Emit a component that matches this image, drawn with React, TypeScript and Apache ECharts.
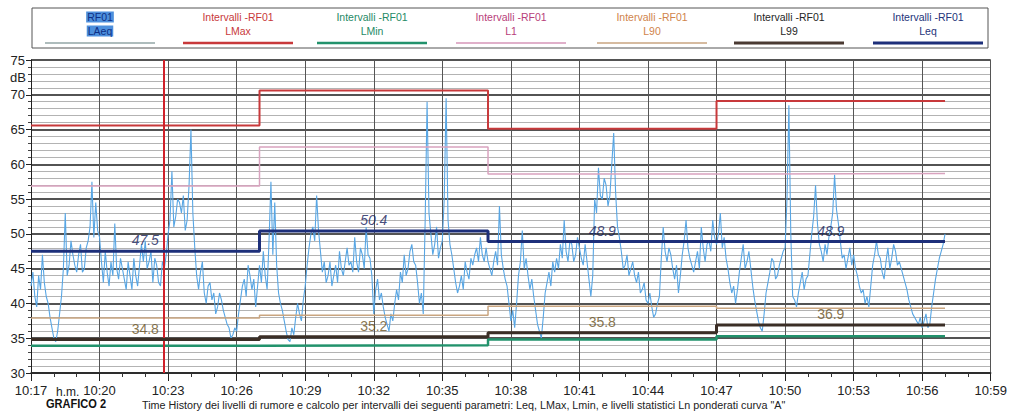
import React, { useEffect, useRef } from "react";
import * as echarts from "echarts";

// ---- data ----
const START_H = 10;
const START_M = 17;
const X_MAX_MIN = 42; // 10:17 -> 10:59
const laeqStepSeconds = 5;

// LAeq short-time trace, one value every 5 s from 10:17:00 to 10:57:00 (12 values per minute)
const laeq: number[] = [
  42.5, 44.5, 41.0, 39.5, 44.0, 42.0, 47.0, 43.0, 41.0, 40.0, 38.0, 36.5,
  35.0, 34.5, 36.0, 38.5, 41.0, 45.0, 53.0, 44.0, 45.5, 49.0, 47.0, 45.5,
  44.5, 47.0, 48.5, 44.5, 45.0, 48.0, 49.0, 51.0, 57.5, 49.5, 54.5, 50.5,
  49.5, 46.0, 43.0, 47.5, 44.5, 42.5, 46.0, 44.0, 51.5, 45.0, 43.5, 46.5,
  45.0, 43.5, 42.0, 46.0, 44.0, 42.0, 46.5, 44.0, 42.5, 45.5, 48.5, 46.0,
  49.0, 45.0, 46.0, 47.5, 43.0, 46.5, 45.5, 43.0, 42.5, 46.0, 45.0, 47.0,
  50.0, 52.0, 59.0, 51.0, 52.5, 55.0, 54.5, 53.0, 55.5, 50.5, 52.0, 57.0,
  65.0, 53.0, 48.0, 44.0, 42.0, 44.5, 46.0, 41.5, 40.0, 42.5, 43.0, 40.5,
  41.5, 38.5, 39.5, 41.5, 40.5, 39.0, 38.0, 37.0, 36.5, 35.0, 35.5, 36.5,
  36.0, 38.5, 40.5, 42.5, 43.5, 41.0, 45.5, 44.0, 42.0, 43.5, 39.5, 42.5,
  45.5, 43.0, 47.5, 44.0, 42.0, 49.0, 57.5, 47.0, 54.5, 45.5, 41.5, 40.0,
  39.0, 37.5, 36.0, 34.8, 34.5, 36.5, 35.5, 38.0, 40.0, 38.5, 37.5, 40.5,
  42.5, 45.5, 48.0, 50.0, 51.0, 49.0, 55.5, 50.5, 47.5, 44.5, 46.0, 43.0,
  44.0, 46.0, 42.5, 44.0, 45.5, 43.0, 47.5, 45.0, 44.0, 46.0, 48.0, 45.5,
  46.0, 44.5, 49.5, 46.0, 44.5, 48.0, 47.0, 45.0, 51.0, 47.0, 46.5, 44.0,
  38.5, 42.0, 43.5, 40.5, 41.5, 39.5, 38.0, 37.0, 36.0, 38.5, 37.5, 40.0,
  42.0, 40.5, 44.5, 43.0, 47.0, 44.0, 45.0, 47.5, 48.5, 46.0, 45.5, 43.0,
  40.0, 41.5, 38.5, 52.0, 69.0, 53.0, 50.0, 47.0, 48.5, 51.0, 46.5, 48.0,
  49.0, 55.0, 69.5, 52.0, 48.5, 47.0, 45.0, 43.0, 41.5, 42.5, 44.0, 42.0,
  46.0, 44.5, 43.5, 46.5, 45.5, 47.0, 48.0, 46.0, 49.5, 47.0, 46.0, 48.0,
  46.0, 45.0, 44.0, 46.0, 47.5, 45.5, 54.0, 47.0, 45.0, 43.5, 42.5, 40.0,
  37.5, 39.0, 36.5, 40.0, 44.0, 46.0, 50.5, 45.0, 46.5, 44.0, 42.0, 43.5,
  41.0, 39.0, 37.0, 36.0, 35.0, 38.0, 41.5, 43.0, 44.5, 42.5, 46.0, 44.5,
  46.5, 45.0, 48.5, 46.5, 52.0, 47.5, 46.0, 49.0, 48.5, 46.0, 47.0, 49.5,
  48.0, 46.5, 45.5, 48.5, 46.0, 43.5, 41.0, 44.0, 55.0, 53.0, 59.5, 55.5,
  55.0, 58.0, 57.0, 54.0, 55.5, 60.0, 64.5, 56.0, 51.0, 49.5, 47.5, 45.0,
  45.5, 47.0, 44.0, 45.0, 46.0, 44.0, 43.0, 44.5, 41.5, 42.0, 43.0, 40.5,
  40.0, 41.5, 39.5, 38.0, 38.5, 40.0, 41.0, 46.5, 51.0, 47.5, 46.0, 48.0,
  47.0, 45.0, 43.5, 45.5, 41.5, 44.0, 47.0, 49.0, 52.0, 48.0, 46.5, 45.5,
  44.5, 46.0, 47.5, 45.0, 51.0, 48.0, 46.0, 48.5, 49.0, 47.5, 52.0, 49.5,
  48.5, 50.0, 53.0, 48.0, 49.5, 46.5, 45.0, 43.0, 41.5, 42.5, 40.0, 42.0,
  44.5, 46.5, 48.5, 45.0, 46.0, 47.5, 45.0, 42.5, 40.5, 39.0, 37.5, 36.5,
  36.0, 38.5, 41.5, 43.0, 44.5, 46.5, 46.0, 43.5, 44.0, 45.5, 46.5, 47.5,
  48.0, 55.0, 68.5, 50.0, 41.0, 40.5, 39.5, 41.5, 43.0, 44.5, 42.0, 43.5,
  44.0, 47.0, 50.0, 52.5, 57.0, 51.5, 48.5, 47.5, 46.0, 48.5, 47.0, 49.5,
  51.0, 53.0, 58.5, 53.5, 51.5, 49.0, 46.5, 47.0, 45.0, 46.5, 48.0, 45.5,
  47.0, 45.0, 44.0, 42.5, 41.5, 42.0, 40.0, 41.0, 39.5, 42.5, 45.5, 47.0,
  49.0, 47.0, 46.5, 44.5, 43.5, 46.0, 48.0, 45.0, 46.5, 48.5, 47.5, 45.5,
  46.0, 45.0, 44.0, 43.0, 42.0, 40.5, 39.5, 38.5, 38.0, 37.5, 37.0, 38.0,
  36.5, 37.5, 38.5, 36.5, 37.0, 39.5, 41.5, 43.5, 45.0, 46.5, 47.5, 48.5,
  50.0,
];

// 10-minute intervals (minutes after 10:17)
const intervalStarts = [0, 10, 20, 30, 40];
const leq = [47.5, 50.4, 48.9, 48.9];
const lmax = [65.6, 70.6, 65.1, 69.1];
const lmin = [33.9, 34.0, 34.8, 35.3];
const l1 = [56.9, 62.5, 58.6, 58.7];
const l90 = [37.9, 38.3, 39.6, 39.3];
const l99 = [34.8, 35.2, 35.8, 36.9];
const cursorMinute = 5.8;

const legendTop = ["RF01", "Intervalli -RF01", "Intervalli -RF01", "Intervalli -RF01", "Intervalli -RF01", "Intervalli -RF01", "Intervalli -RF01"];
const legendBottom = ["LAeq", "LMax", "LMin", "L1", "L90", "L99", "Leq"];
const subtitle = 'Time History dei livelli di rumore e calcolo per intervalli dei seguenti parametri: Leq, LMax, Lmin, e livelli statistici Ln ponderati curva "A"';
const chartTag = "GRAFICO 2";
const unitLabel = "dB";
const timeUnit = "h.m.";

// ---- styles ----
const FONT = "'Liberation Sans', Arial, sans-serif";
const cLAeq = "#58a6e4";
const cLMax = "#c8393b";
const cLMin = "#22926c";
const cL1 = "#d9a3bf";
const cL90 = "#c9a580";
const cL99 = "#3b2e26";
const cLeq = "#1d2f7a";

const legendTextColors = ["#0d2f86", "#c8393b", "#1f8a66", "#b8407a", "#d0844c", "#262626", "#24347a"];
const legendLineColors = ["#93a6a6", cLMax, cLMin, "#d696b8", "#c9a580", "#4a3a32", cLeq];
const legendLineWidths = [1.5, 2.5, 2.5, 1.5, 1.5, 3, 3];
const legendCenters = [100, 238, 372, 511, 652, 789, 928];
const legendHalf = 55;

function timeLabel(v: number): string {
  const total = START_H * 60 + START_M + Math.round(v);
  const h = Math.floor(total / 60);
  const m = total % 60;
  return `${h}:${m < 10 ? "0" : ""}${m}`;
}

const laeqData = laeq.map((v, i) => [(i * laeqStepSeconds) / 60, v]);
const stepData = (vals: number[]) => intervalStarts.map((t, i) => [t, vals[Math.min(i, vals.length - 1)]]);
const midData = (vals: number[]) => vals.map((v, i) => [(intervalStarts[i] + intervalStarts[i + 1]) / 2, v]);

function stepSeries(name: string, vals: number[], color: string, width: number, z: number) {
  return {
    name,
    type: "line",
    step: "end",
    data: stepData(vals),
    showSymbol: false,
    symbol: "none",
    lineStyle: { color, width },
    z,
    silent: true,
  };
}

function labelSeries(vals: number[], color: string, italic: boolean) {
  return {
    type: "scatter",
    data: midData(vals),
    symbolSize: 0,
    z: 10,
    silent: true,
    label: {
      show: true,
      position: "top",
      distance: 4,
      formatter: (p: any) => p.value[1].toFixed(1),
      color,
      fontSize: 14,
      fontStyle: italic ? "italic" : "normal",
      fontFamily: FONT,
    },
  };
}

export default function App() {
  const ref = useRef<HTMLDivElement>(null);

  useEffect(() => {
    if (!ref.current) return;
    const chart = echarts.init(ref.current, undefined, { renderer: "svg" });

    const graphics: any[] = [];
    graphics.push({
      type: "rect",
      shape: { x: 32, y: 8, width: 956, height: 40 },
      style: { fill: "#fff", stroke: "#555", lineWidth: 1 },
      silent: true,
    });
    legendTop.forEach((t, i) => {
      const cx = legendCenters[i];
      const hl = i === 0;
      graphics.push({
        type: "text",
        x: cx,
        y: 17,
        style: {
          text: t,
          fill: legendTextColors[i],
          font: `10.5px ${FONT}`,
          textAlign: "center",
          textVerticalAlign: "middle",
          backgroundColor: hl ? "#4d8fdc" : undefined,
          padding: hl ? [0, 1] : undefined,
        },
        silent: true,
      });
      graphics.push({
        type: "text",
        x: cx,
        y: 31,
        style: {
          text: legendBottom[i],
          fill: legendTextColors[i],
          font: `10.5px ${FONT}`,
          textAlign: "center",
          textVerticalAlign: "middle",
          backgroundColor: hl ? "#4d8fdc" : undefined,
          padding: hl ? [0, 1] : undefined,
        },
        silent: true,
      });
      graphics.push({
        type: "line",
        shape: { x1: cx - legendHalf, y1: 43, x2: cx + legendHalf, y2: 43 },
        style: { stroke: legendLineColors[i], lineWidth: legendLineWidths[i] },
        silent: true,
      });
    });
    graphics.push({
      type: "text",
      x: 10,
      y: 77,
      style: { text: unitLabel, fill: "#222", font: `13px ${FONT}`, textVerticalAlign: "middle" },
      silent: true,
    });
    graphics.push({
      type: "text",
      x: 56,
      y: 392,
      style: { text: timeUnit, fill: "#222", font: `12px ${FONT}`, textVerticalAlign: "middle" },
      silent: true,
    });
    graphics.push({
      type: "text",
      x: 46,
      y: 404,
      scaleX: 0.85,
      style: { text: chartTag, fill: "#111", font: `bold 13px ${FONT}`, textVerticalAlign: "middle" },
      silent: true,
    });
    graphics.push({
      type: "text",
      x: 142,
      y: 405,
      scaleX: 0.98,
      style: { text: subtitle, fill: "#222", font: `11px ${FONT}`, textVerticalAlign: "middle" },
      silent: true,
    });

    chart.setOption({
      animation: false,
      backgroundColor: "#fff",
      textStyle: { fontFamily: FONT },
      grid: { left: 31, right: 15, top: 60, bottom: 42, containLabel: false },
      xAxis: {
        type: "value",
        min: 0,
        max: X_MAX_MIN,
        interval: 3,
        axisLine: { show: true, onZero: false, lineStyle: { color: "#222", width: 1.5 } },
        axisTick: { show: true, length: 8, lineStyle: { color: "#222" } },
        minorTick: { show: true, splitNumber: 3, length: 4, lineStyle: { color: "#333" } },
        axisLabel: { formatter: (v: number) => timeLabel(v), fontSize: 13, color: "#222", margin: 11, fontFamily: FONT },
        splitLine: { show: true, lineStyle: { color: "#555", width: 1 } },
      },
      yAxis: {
        type: "value",
        min: 30,
        max: 75,
        interval: 5,
        axisLine: { show: true, lineStyle: { color: "#222", width: 1 } },
        axisTick: { show: true, length: 5, lineStyle: { color: "#222" } },
        minorTick: { show: true, splitNumber: 5, length: 3, lineStyle: { color: "#444" } },
        axisLabel: { fontSize: 13, color: "#222", margin: 6, fontFamily: FONT },
        splitLine: { show: true, lineStyle: { color: "#1a1a1a", width: 1.5 } },
        minorSplitLine: { show: true, lineStyle: { color: "#b3b3b3", width: 1 } },
      },
      graphic: graphics,
      series: [
        {
          name: "LAeq",
          type: "line",
          data: laeqData,
          showSymbol: false,
          symbol: "none",
          lineStyle: { color: cLAeq, width: 1.1 },
          z: 2,
          silent: true,
          markLine: {
            silent: true,
            symbol: "none",
            label: { show: false },
            lineStyle: { color: "#d0202a", width: 2, type: "solid" },
            data: [{ xAxis: cursorMinute }],
          },
        },
        stepSeries("L90", l90, cL90, 1.5, 3),
        stepSeries("L1", l1, cL1, 1.5, 3),
        stepSeries("LMax", lmax, cLMax, 2, 4),
        stepSeries("LMin", lmin, cLMin, 2.5, 4),
        stepSeries("L99", l99, cL99, 3, 5),
        stepSeries("Leq", leq, cLeq, 3, 5),
        labelSeries(leq, "#14205a", true),
        labelSeries(l99, "#6a5222", false),
      ],
    });

    return () => chart.dispose();
  }, []);

  return (
    <div
      ref={ref}
      style={{ position: "fixed", left: 0, top: 0, width: 1010, height: 415, background: "#fff" }}
    />
  );
}
